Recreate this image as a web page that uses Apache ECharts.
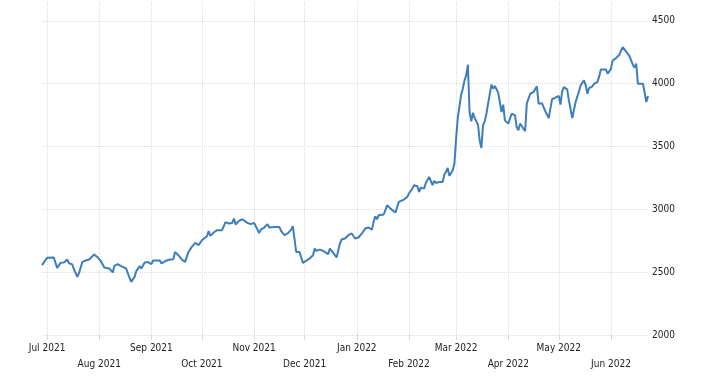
<!DOCTYPE html>
<html><head><meta charset="utf-8">
<script src="https://cdn.jsdelivr.net/npm/echarts@6/dist/echarts.min.js"></script>
<style>html,body{margin:0;padding:0;background:#fff}#c{width:709px;height:389px}</style>
</head><body><div id="c"></div>
<script>
const startDate = '2021-06-28';
const endDate = '2022-06-23';
const dates = [
'2021-06-28','2021-07-01','2021-07-05','2021-07-07','2021-07-08','2021-07-09','2021-07-11','2021-07-13','2021-07-14','2021-07-16',
'2021-07-17','2021-07-19','2021-07-20','2021-07-22','2021-07-24','2021-07-26','2021-07-27','2021-07-29','2021-07-31','2021-08-02',
'2021-08-04','2021-08-05','2021-08-07','2021-08-09','2021-08-10','2021-08-12','2021-08-14','2021-08-17','2021-08-18','2021-08-20',
'2021-08-22','2021-08-23','2021-08-25','2021-08-26','2021-08-28','2021-08-30','2021-09-01','2021-09-02','2021-09-06','2021-09-07',
'2021-09-08','2021-09-10','2021-09-12','2021-09-14','2021-09-15','2021-09-17','2021-09-19','2021-09-21','2021-09-23','2021-09-25',
'2021-09-27','2021-09-29','2021-10-01','2021-10-04','2021-10-05','2021-10-06','2021-10-08','2021-10-10','2021-10-13','2021-10-15',
'2021-10-17','2021-10-19','2021-10-20','2021-10-21','2021-10-23','2021-10-25','2021-10-26','2021-10-28','2021-10-30','2021-11-01',
'2021-11-04','2021-11-05','2021-11-07','2021-11-09','2021-11-10','2021-11-11','2021-11-13','2021-11-16','2021-11-17','2021-11-18',
'2021-11-19','2021-11-21','2021-11-23','2021-11-24','2021-11-25','2021-11-26','2021-11-28','2021-11-30','2021-12-01','2021-12-04',
'2021-12-06','2021-12-07','2021-12-08','2021-12-10','2021-12-12','2021-12-15','2021-12-16','2021-12-18','2021-12-20','2021-12-22',
'2021-12-23','2021-12-25','2021-12-27','2021-12-29','2021-12-30','2021-12-31','2022-01-02','2022-01-04','2022-01-06','2022-01-08',
'2022-01-10','2022-01-11','2022-01-12','2022-01-13','2022-01-14','2022-01-17','2022-01-18','2022-01-19','2022-01-21','2022-01-24',
'2022-01-25','2022-01-26','2022-01-29','2022-01-31','2022-02-01','2022-02-03','2022-02-04','2022-02-06','2022-02-07','2022-02-08',
'2022-02-10','2022-02-11','2022-02-13','2022-02-15','2022-02-16','2022-02-17','2022-02-19','2022-02-21','2022-02-22','2022-02-23',
'2022-02-24','2022-02-25','2022-02-27','2022-02-28','2022-03-01','2022-03-02','2022-03-03','2022-03-04','2022-03-05','2022-03-06',
'2022-03-07','2022-03-08','2022-03-09','2022-03-10','2022-03-11','2022-03-12','2022-03-14','2022-03-15','2022-03-16','2022-03-17',
'2022-03-18','2022-03-19','2022-03-20','2022-03-21','2022-03-22','2022-03-23','2022-03-24','2022-03-26','2022-03-27','2022-03-28',
'2022-03-29','2022-03-30','2022-04-01','2022-04-02','2022-04-03','2022-04-05','2022-04-06','2022-04-07','2022-04-08','2022-04-09',
'2022-04-11','2022-04-12','2022-04-14','2022-04-16','2022-04-18','2022-04-19','2022-04-21','2022-04-23','2022-04-25','2022-04-26',
'2022-04-27','2022-04-29','2022-05-01','2022-05-02','2022-05-03','2022-05-04','2022-05-06','2022-05-07','2022-05-09','2022-05-11',
'2022-05-12','2022-05-13','2022-05-14','2022-05-16','2022-05-17','2022-05-18','2022-05-19','2022-05-21','2022-05-22','2022-05-23',
'2022-05-24','2022-05-25','2022-05-26','2022-05-29','2022-05-30','2022-06-01','2022-06-02','2022-06-04','2022-06-06','2022-06-07',
'2022-06-08','2022-06-09','2022-06-10','2022-06-12','2022-06-14','2022-06-15','2022-06-16','2022-06-17','2022-06-20','2022-06-22',
'2022-06-23'
];
const values = [
2556,2614,2617,2534,2537,2574,2577,2601,2572,2561,
2521,2463,2494,2582,2593,2601,2590,2641,2619,2587,
2537,2548,2529,2498,2550,2564,2548,2529,2490,2423,
2463,2508,2548,2529,2577,2580,2564,2593,2593,2569,
2561,2593,2601,2603,2661,2635,2601,2582,2661,2701,
2733,2715,2754,2786,2828,2789,2816,2834,2834,2898,
2887,2892,2927,2879,2908,2921,2932,2892,2882,2892,
2812,2839,2855,2882,2855,2868,2860,2860,2828,2826,
2794,2808,2839,2866,2866,2661,2661,2574,2582,2609,
2635,2688,2669,2680,2669,2643,2688,2653,2617,2728,
2760,2768,2794,2808,2794,2768,2776,2808,2847,2855,
2839,2900,2945,2921,2953,2959,2993,3033,3006,2975,
3019,3059,3078,3099,3126,3165,3192,3184,3138,3173,
3165,3210,3258,3192,3226,3210,3218,3218,3277,3297,
3329,3266,3311,3364,3563,3727,3732,3913,3960,4026,
4066,4151,3774,3700,3769,3727,3674,3549,3488,3668,
3700,3761,3841,3849,3992,3960,3981,3929,3854,3774,
3833,3708,3682,3722,3761,3748,3655,3629,3682,3663,
3621,3841,3920,3933,3979,3841,3845,3780,3727,3801,
3876,3889,3902,3833,3939,3973,3955,3867,3727,3854,
3859,3939,3987,4026,3987,3920,3965,3979,4000,3992,
4013,4058,4113,4113,4079,4118,4184,4203,4230,4264,
4290,4298,4256,4219,4151,4127,4159,4000,4000,3854,
3902
];
const yTicks = [2000, 2500, 3000, 3500, 4000, 4500];
const monthNames = ['Jan','Feb','Mar','Apr','May','Jun','Jul','Aug','Sep','Oct','Nov','Dec'];

const categories = [];
for (let t = Date.parse(startDate); t <= Date.parse(endDate); t += 86400000) {
  categories.push(new Date(t).toISOString().slice(0, 10));
}
const valueByDate = {};
dates.forEach((d, i) => { valueByDate[d] = values[i]; });
const seriesData = categories.map(c => (c in valueByDate ? valueByDate[c] : null));

const isMonthStart = (idx, val) => categories[idx].slice(8) === '01';
const FONT = '"DejaVu Sans Condensed", "DejaVu Sans", sans-serif';

const chart = echarts.init(document.getElementById('c'));
chart.setOption({
  animation: false,
  backgroundColor: '#fff',
  grid: { left: 42, right: 61, top: 2, bottom: 54 },
  xAxis: {
    type: 'category',
    data: categories,
    boundaryGap: false,
    axisLine: { show: false },
    axisTick: { show: true, interval: isMonthStart, length: 5, lineStyle: { color: '#d9d9d9' } },
    axisLabel: {
      interval: isMonthStart,
      margin: 5,
      lineHeight: 16,
      fontSize: 10,
      fontFamily: FONT,
      color: '#222',
      formatter: function (v) {
        const y = v.slice(0, 4), m = +v.slice(5, 7);
        const s = monthNames[m - 1] + ' ' + y;
        return m % 2 === 0 ? '\n' + s : s;
      }
    },
    splitLine: { show: true, interval: isMonthStart, lineStyle: { type: 'dotted', color: '#dedede', width: 1 } }
  },
  yAxis: {
    type: 'value',
    position: 'right',
    min: yTicks[0],
    max: 4650,
    interval: 500,
    axisLine: { show: false },
    axisTick: { show: false },
    axisLabel: {
      showMaxLabel: false, margin: 4, fontSize: 10, fontFamily: FONT, color: '#222',
      formatter: function (v) { return String(v); }
    },
    splitLine: { show: true, showMaxLine: false, lineStyle: { type: 'dotted', color: '#dedede', width: 1 } }
  },
  series: [{
    type: 'line',
    data: seriesData,
    connectNulls: true,
    showSymbol: false,
    symbol: 'none',
    lineStyle: { color: '#3d7ebd', width: 2 },
    itemStyle: { color: '#3d7ebd' }
  }]
});
</script></body></html>
